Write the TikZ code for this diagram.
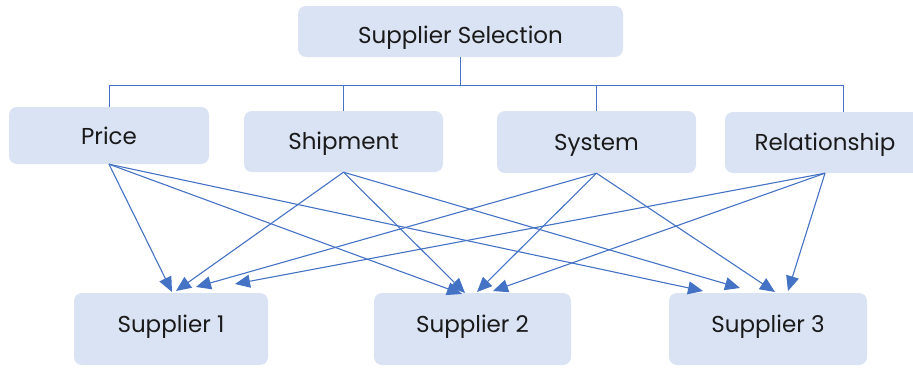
\documentclass[tikz,border=0pt]{standalone}
\usepackage{fontspec}
\setmainfont{Poppins}
\usetikzlibrary{arrows.meta}
\definecolor{boxfill}{HTML}{DAE3F3}
\definecolor{lineblue}{HTML}{4472C4}
\definecolor{txt}{HTML}{1A1A1A}
\begin{document}
\begin{tikzpicture}[x=1pt,y=-1pt,
  box/.style={fill=boxfill, rounded corners=8pt, inner sep=0pt,
    font=\fontsize{23}{27}\selectfont, text=txt, text depth=10pt},
  tree/.style={draw=lineblue, line width=1pt},
  link/.style={draw=lineblue, line width=1.1pt, -{Triangle[length=15pt,width=13pt]}}]
\useasboundingbox (0,0) rectangle (913,367);
\clip (0,0) rectangle (913,367);

\node[box, minimum width=325pt, minimum height=51pt, text height=34pt] (top) at (460.5,31.5) {Supplier Selection};
\node[box, minimum width=200pt, minimum height=57pt, text height=28pt] (price) at (109,135.5) {Price};
\node[box, minimum width=199pt, minimum height=61pt, text height=26pt] (ship) at (343.5,141.5) {Shipment};
\node[box, minimum width=199pt, minimum height=62pt, text height=26pt] (sys) at (596.5,142) {System};
\node[box, minimum width=200pt, minimum height=61pt, text height=26pt] (rel) at (825,142.5) {Relationship};
\node[box, minimum width=194pt, minimum height=72pt, text height=16pt] (s1) at (171,329) {Supplier 1};
\node[box, minimum width=197pt, minimum height=72pt, text height=16pt] (s2) at (472.5,329) {Supplier 2};
\node[box, minimum width=198pt, minimum height=72pt, text height=16pt] (s3) at (768,329) {Supplier 3};

% tree connectors
\coordinate (bus) at (460.5,85);
\draw[tree] (top.south) -- (bus);
\draw[tree] (bus) -| (price.north);
\draw[tree] (bus) -| (ship.north);
\draw[tree] (bus) -| (sys.north);
\draw[tree] (bus) -| ([xshift=18pt]rel.north);

% arrow targets
\coordinate (t11) at (172,292);
\coordinate (t12) at (176,291);
\coordinate (t13) at (196,287);
\coordinate (t14) at (235,284);
\coordinate (t21) at (462,294);
\coordinate (t22) at (465,293);
\coordinate (t23) at (477,292);
\coordinate (t24) at (493,291);
\coordinate (t31) at (703,291);
\coordinate (t32) at (740,288);
\coordinate (t33) at (775,292);
\coordinate (t34) at (788,291);

\draw[link] (price.south) -- (t11);
\draw[link] (price.south) -- (t21);
\draw[link] (price.south) -- (t31);
\draw[link] (ship.south) -- (t12);
\draw[link] (ship.south) -- (t22);
\draw[link] (ship.south) -- (t32);
\draw[link] (sys.south) -- (t13);
\draw[link] (sys.south) -- (t23);
\draw[link] (sys.south) -- (t33);
\draw[link] (rel.south) -- (t14);
\draw[link] (rel.south) -- (t24);
\draw[link] (rel.south) -- (t34);
\end{tikzpicture}
\end{document}
